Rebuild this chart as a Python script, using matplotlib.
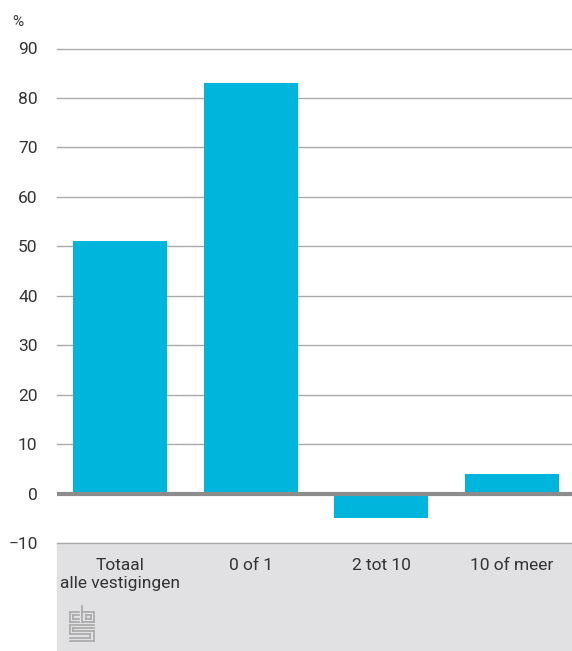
import matplotlib
matplotlib.use("Agg")
import matplotlib.pyplot as plt
from matplotlib.patches import Rectangle

categories = ["Totaal\nalle vestigingen", "0 of 1", "2 tot 10", "10 of meer"]
values = [51, 83, -5, 4]
yticks = [-10, 0, 10, 20, 30, 40, 50, 60, 70, 80, 90]

BAR = "#00b5dc"
GRID = "#aaaaaa"
TEXT = "#333333"
BAND = "#e1e1e3"

plt.rcParams["font.family"] = ["Roboto", "DejaVu Sans"]

fig = plt.figure(figsize=(5.72, 6.51), dpi=100)
W, H = 572, 651

# grey band under the plot
fig.add_artist(Rectangle((57 / W, 1 / H), 1 - 57 / W, (651 - 543 - 1) / H,
                         transform=fig.transFigure, color=BAND, zorder=0))

ax = fig.add_axes([57 / W, (651 - 543) / H, 515 / W, (543 - 48.5) / H])
ax.set_facecolor("none")
ax.set_zorder(2)

x = list(range(len(categories)))
ax.bar(x, values, width=0.72, color=BAR, zorder=2)

ax.set_xlim(-0.482, 3.46)
ax.set_ylim(-10, 90)
ax.set_yticks(yticks)
ax.set_yticklabels([str(t).replace("-", "\u2212") for t in yticks])
for t in yticks:
    if t == 0:
        ax.axhline(t, color="#8c8c8c", lw=3, zorder=3)
    else:
        ax.axhline(t, color=GRID, lw=1, zorder=1, clip_on=False)

ax.set_xticks(x)
ax.set_xticklabels(categories, fontsize=12.5, color=TEXT, linespacing=1.25)
ax.tick_params(axis="x", length=0, pad=11)
ax.tick_params(axis="y", length=0, pad=14, labelsize=12.5, labelcolor=TEXT)
for s in ax.spines.values():
    s.set_visible(False)

fig.text(12 / W, 1 - 22 / H, "%", fontsize=11, color=TEXT, va="center")

# simplified cbs logo
lc = "#a8a8a8"
lx0, ly0 = 70, 606
def seg(x1, y1, x2, y2):
    fig.add_artist(plt.Line2D([(lx0 + x1) / W, (lx0 + x2) / W],
                              [1 - (ly0 + y1) / H, 1 - (ly0 + y2) / H],
                              color=lc, lw=1.2, zorder=3))
# c
seg(0, 6, 0, 16); seg(0, 6, 9, 6); seg(0, 16, 9, 16); seg(3, 9, 3, 13); seg(3, 9, 9, 9); seg(3, 13, 9, 13)
# b
seg(12, 0, 12, 16); seg(12, 16, 24, 16); seg(24, 6, 24, 16); seg(12, 6, 24, 6); seg(16, 9, 16, 13); seg(16, 9, 21, 9); seg(21, 9, 21, 13); seg(16, 13, 21, 13)
# S
seg(0, 19, 24, 19); seg(0, 19, 0, 28); seg(0, 28, 20, 28); seg(20, 28, 20, 32); seg(20, 32, 0, 32)
seg(3, 22, 24, 22); seg(3, 22, 3, 25); seg(3, 25, 24, 25); seg(24, 25, 24, 35); seg(24, 35, 0, 35)

fig.savefig("out.png", dpi=100)
